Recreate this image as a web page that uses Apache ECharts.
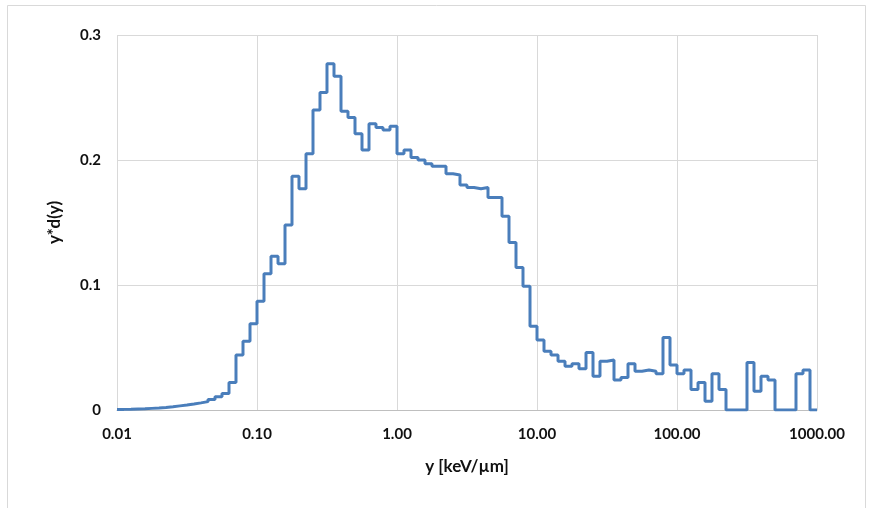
<!DOCTYPE html>
<html>
<head>
<meta charset="utf-8">
<script src="https://cdn.jsdelivr.net/npm/echarts@6/dist/echarts.min.js"></script>
<style>
html,body{margin:0;padding:0;background:#fff;}
#chart{width:871px;height:508px;}
</style>
</head>
<body>
<div id="chart"></div>
<script>
// Bin layout: 20 log-spaced bins per decade, from 0.01 to 1000
const mantissas = [1.000,1.122,1.259,1.413,1.585,1.778,1.995,2.239,2.512,2.818,3.162,3.548,3.981,4.467,5.012,5.623,6.310,7.079,7.943,8.913];
const decades = [0.01, 0.1, 1, 10, 100];
const lastEdge = 1000;

// y*d(y) value of each bin
const binValues = [
  0.0005,0.0006,0.0008,0.001,0.0013,0.0016,0.002,0.0026,0.0033,0.004,
  0.0048,0.0057,0.0067,0.0085,0.0107,0.0133,0.022,0.044,0.055,0.069,
  0.087,0.109,0.123,0.117,0.148,0.187,0.177,0.205,0.240,0.254,
  0.277,0.267,0.239,0.234,0.221,0.208,0.229,0.226,0.224,0.227,
  0.205,0.208,0.202,0.200,0.197,0.195,0.195,0.189,0.188,0.180,
  0.178,0.177,0.178,0.170,0.170,0.155,0.134,0.114,0.099,0.067,
  0.056,0.047,0.044,0.039,0.035,0.037,0.033,0.046,0.027,0.039,
  0.040,0.024,0.026,0.037,0.031,0.032,0.031,0.029,0.058,0.036,
  0.029,0.032,0.0165,0.022,0.007,0.029,0.0165,0,0,0,
  0.038,0.015,0.027,0.024,0,0,0,0.029,0.032,0
];

const xTickLabels = ['0.01','0.10','1.00','10.00','100.00','1000.00'];
const yTickLabels = ['0','0.1','0.2','0.3'];

const edges = [];
decades.forEach(d => mantissas.forEach(m => edges.push(m * d)));
edges.push(lastEdge);

const seriesData = binValues.map((v, i) => [edges[i], v]);
seriesData.push([edges[binValues.length], binValues[binValues.length - 1]]);

const chart = echarts.init(document.getElementById('chart'), null, {renderer: 'canvas'});
const labelFont = {fontFamily: 'Lato', fontWeight: 'bold', fontSize: 15, color: '#111111'};
const titleFont = {fontFamily: 'Lato', fontWeight: 'bold', fontSize: 17, color: '#111111'};
chart.setOption({
  animation: false,
  backgroundColor: '#ffffff',
  graphic: [{
    type: 'rect',
    shape: {x: 7.5, y: 5.5, width: 858, height: 520},
    style: {fill: 'none', stroke: '#d9d9d9', lineWidth: 1},
    silent: true
  }],
  grid: {left: 117, right: 54, top: 35, bottom: 98, containLabel: false},
  xAxis: {
    type: 'log',
    logBase: 10,
    min: 0.01,
    max: 1000,
    interval: 1,
    name: 'y [keV/µm]',
    nameLocation: 'middle',
    nameGap: 48,
    nameTextStyle: titleFont,
    axisLine: {show: true, lineStyle: {color: '#bfbfbf', width: 1}},
    axisTick: {show: false},
    minorTick: {show: false},
    splitLine: {show: true, lineStyle: {color: '#d9d9d9', width: 1}},
    axisLabel: Object.assign({
      margin: 17,
      formatter: function (v) {
        const idx = Math.round(Math.log10(v)) + 2;
        return xTickLabels[idx] !== undefined ? xTickLabels[idx] : '';
      }
    }, labelFont)
  },
  yAxis: {
    type: 'value',
    min: 0,
    max: 0.3,
    interval: 0.1,
    name: 'y*d(y)',
    nameLocation: 'middle',
    nameGap: 54,
    nameRotate: 90,
    nameTextStyle: titleFont,
    axisLine: {show: false},
    axisTick: {show: false},
    splitLine: {show: true, lineStyle: {color: '#d9d9d9', width: 1}},
    axisLabel: Object.assign({
      margin: 16,
      formatter: function (v) {
        const idx = Math.round(v * 10);
        return yTickLabels[idx] !== undefined ? yTickLabels[idx] : '';
      }
    }, labelFont)
  },
  series: [{
    type: 'line',
    step: 'end',
    data: seriesData,
    showSymbol: false,
    symbol: 'none',
    lineStyle: {color: '#4a7ebb', width: 3},
    clip: true
  }]
});
</script>
</body>
</html>
